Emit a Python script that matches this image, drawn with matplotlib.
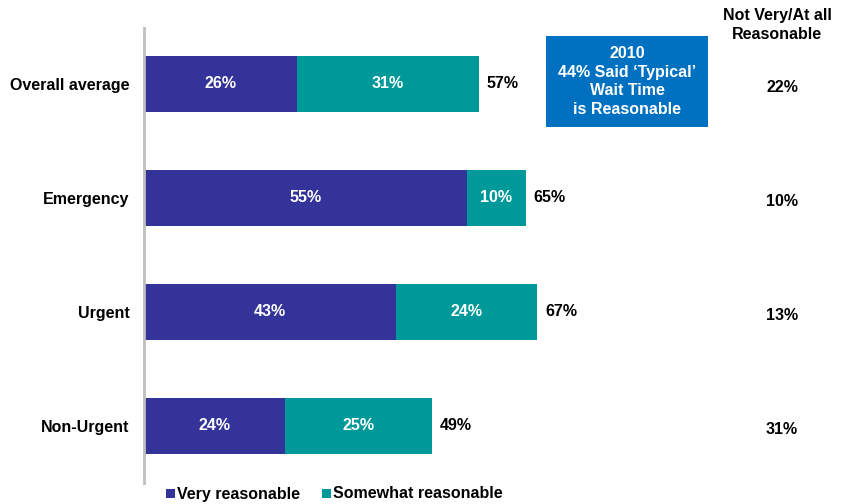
import matplotlib.pyplot as plt
from matplotlib.patches import Rectangle

categories = ["Overall average", "Emergency", "Urgent", "Non-Urgent"]
very = [26, 55, 43, 24]
somewhat = [31, 10, 24, 25]
totals = [57, 65, 67, 49]
not_reasonable = [22, 10, 13, 31]

c_very = "#333399"
c_some = "#009999"
c_box = "#0070C0"

plt.rcParams["font.family"] = ["Liberation Sans", "DejaVu Sans"]
plt.rcParams["font.weight"] = "bold"

W, H = 845, 504
fig = plt.figure(figsize=(W / 100, H / 100), dpi=100)
left, right, top, bottom = 144, 844, 28, 483
ax = fig.add_axes([left / W, 1 - bottom / H, (right - left) / W, (bottom - top) / H])
px_per_unit = 5.87
ax.set_xlim(0, (right - left) / px_per_unit)
ax.set_ylim(3.5, -0.49)

ys = range(len(categories))
ax.barh(ys, very, height=0.49, color=c_very, edgecolor="none")
ax.barh(ys, somewhat, left=very, height=0.49, color=c_some, edgecolor="none")

fs = 11.5
for y, v, s, t, n in zip(ys, very, somewhat, totals, not_reasonable):
    ax.text(v / 2, y, f"{v}%", color="white", ha="center", va="center", fontsize=fs, fontweight="bold")
    ax.text(v + s / 2, y, f"{s}%", color="white", ha="center", va="center", fontsize=fs, fontweight="bold")
    ax.text(t + 1.3, y, f"{t}%", color="black", ha="left", va="center", fontsize=fs, fontweight="bold")
    ax.text((782 - left) / px_per_unit, y + 0.03, f"{n}%", color="black", ha="center",
            va="center", fontsize=fs, fontweight="bold")

ax.set_yticks(list(ys))
ax.set_yticklabels(categories, fontsize=fs, fontweight="bold")
ax.tick_params(axis="y", length=0, pad=10.5)
ax.set_xticks([])
for side in ["top", "right", "bottom"]:
    ax.spines[side].set_visible(False)
ax.spines["left"].set_color("#BFBFBF")
ax.spines["left"].set_linewidth(2)

# right-hand column header
fig.text(777 / W, 1 - 25 / H, "Not Very/At all\nReasonable", ha="center", va="center",
         fontsize=fs, fontweight="bold", linespacing=1.3)

# 2010 callout box
bx0, by0, bx1, by1 = 546, 36, 708, 127
fig.add_artist(Rectangle((bx0 / W, 1 - by1 / H), (bx1 - bx0) / W, (by1 - by0) / H,
                         transform=fig.transFigure, facecolor=c_box, edgecolor="none"))
fig.text((bx0 + bx1) / 2 / W, 1 - (by0 + by1) / 2 / H,
         "2010\n44% Said \u2018Typical\u2019\nWait Time\nis Reasonable",
         ha="center", va="center", color="white", fontsize=fs, fontweight="bold", linespacing=1.3)

# legend
for x, label, col in [(166, "Very reasonable", c_very), (322, "Somewhat reasonable", c_some)]:
    fig.add_artist(Rectangle((x / W, 1 - 498 / H), 9 / W, 9 / H, transform=fig.transFigure,
                             facecolor=col, edgecolor="none"))
    fig.text((x + 11) / W, 1 - 494 / H, label, ha="left", va="center", fontsize=fs, fontweight="bold")

fig.savefig("out.png", dpi=100)
